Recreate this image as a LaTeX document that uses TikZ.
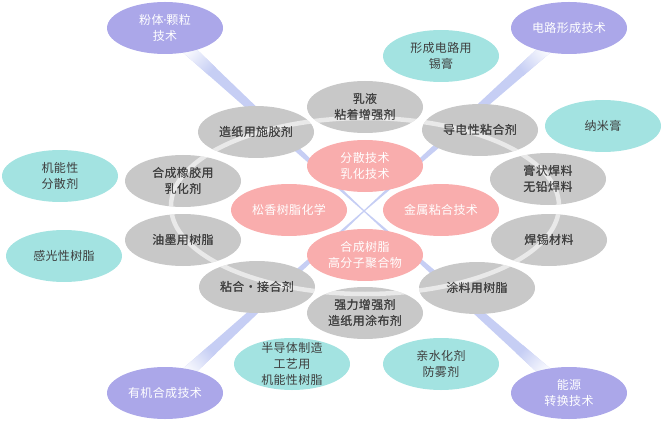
\documentclass[tikz,border=0pt]{standalone}
\usepackage{fontspec}
\setmainfont{Noto Sans CJK SC}[LetterSpace=3.0]
\newfontfamily\latinf{DejaVu Sans}
\usetikzlibrary{shapes.geometric,calc}
\definecolor{graybg}{HTML}{C8C8C8}
\definecolor{graytx}{HTML}{3E3E3E}
\definecolor{pinkbg}{HTML}{F9ADAD}
\definecolor{purbg}{HTML}{ABA7E9}
\definecolor{tealbg}{HTML}{A3E3E1}
\definecolor{bandc}{HTML}{C6CEF4}
\tikzset{
  base/.style={ellipse, minimum width=116pt, minimum height=52pt, inner xsep=0pt, inner ysep=-8pt,
    align=center, font=\fontsize{12}{16}\selectfont},
  grayn/.style={base, fill=graybg, text=graytx},
  pinkn/.style={base, fill=pinkbg, text=white},
  purn/.style={base, fill=purbg, text=white},
  tealn/.style={base, fill=tealbg, text=graytx},
  ringline/.style={white, line width=4.5pt, opacity=0.6},
}
\newcommand\bandto[2]{%
  \fill[bandc] ($(#1)!0.1!(hub)!6pt!90:(hub)$) -- ($(hub)!0.6pt!-90:(#1)$) -- ($(hub)!0.6pt!90:(#1)$) -- ($(#1)!0.1!(hub)!6pt!-90:(hub)$) -- cycle;
  \shade[top color=white, bottom color=bandc, shading angle=#2] ($(#1)!0.1!(hub)!6pt!90:(hub)$) -- ($(#1)!0.24!(hub)!5.2pt!90:(hub)$) -- ($(#1)!0.24!(hub)!5.2pt!-90:(hub)$) -- ($(#1)!0.1!(hub)!6pt!-90:(hub)$) -- cycle;
}
\begin{document}
\begin{tikzpicture}[x=1pt,y=-1pt]
\useasboundingbox (0,0) rectangle (663,422);
\coordinate (hub) at (364,211);
% purple node positions (defined first for the bands)
\coordinate (p1c) at (165,28);
\coordinate (p2c) at (569,28);
\coordinate (p3c) at (165,393);
\coordinate (p4c) at (569,393);
\bandto{p1c}{47.7}
\bandto{p2c}{-48.3}
\bandto{p3c}{132.5}
\bandto{p4c}{-131.9}
% gray ring nodes
\node[grayn] (g1) at (365,107) {乳液\\粘着增强剂};
\node[grayn] (g2) at (256,132) {造纸用施胶剂};
\node[grayn] (g3) at (480,130) {导电性粘合剂};
\node[grayn] (g4) at (183,181) {合成橡胶用\\乳化剂};
\node[grayn] (g5) at (548,179) {膏状焊料\\无铅焊料};
\node[grayn] (g6) at (183,240) {油墨用树脂};
\node[grayn] (g7) at (549,240) {焊锡材料};
\node[grayn] (g8) at (257,287) {粘合・接合剂};
\node[grayn] (g9) at (477,288) {涂料用树脂};
\node[grayn] (g10) at (365,313) {强力增强剂\\造纸用涂布剂};
% glossy ring over the gray ellipses
\begin{scope}
  \clip (g1.center) ellipse [x radius=58, y radius=26]
        (g2.center) ellipse [x radius=58, y radius=26]
        (g3.center) ellipse [x radius=58, y radius=26]
        (g4.center) ellipse [x radius=58, y radius=26]
        (g5.center) ellipse [x radius=58, y radius=26]
        (g6.center) ellipse [x radius=58, y radius=26]
        (g7.center) ellipse [x radius=58, y radius=26]
        (g8.center) ellipse [x radius=58, y radius=26]
        (g9.center) ellipse [x radius=58, y radius=26]
        (g10.center) ellipse [x radius=58, y radius=26];
  \draw[ringline] (365,206) ellipse [x radius=194, y radius=88];
\end{scope}
% redraw gray texts above the ring
\foreach \n/\t in {g1/{乳液\\粘着增强剂}, g2/造纸用施胶剂, g3/导电性粘合剂, g4/{合成橡胶用\\乳化剂}, g5/{膏状焊料\\无铅焊料}, g6/油墨用树脂, g7/焊锡材料, g8/粘合・接合剂, g9/涂料用树脂, g10/{强力增强剂\\造纸用涂布剂}}
  \node[base, text=graytx] at (\n.center) {\t};
% central pink nodes
\node[pinkn] (c1) at (365,166) {分散技术\\乳化技术};
\node[pinkn] (c2) at (289,210) {松香树脂化学};
\node[pinkn] (c3) at (441,210) {金属粘合技术};
\node[pinkn] (c4) at (365,255) {合成树脂\\高分子聚合物};
% teal nodes
\node[tealn] (t1) at (441,56) {形成电路用\\锡膏};
\node[tealn] (t2) at (603,126) {纳米膏};
\node[tealn] (t3) at (60,176) {机能性\\分散剂};
\node[tealn] (t4) at (64,256) {感光性树脂};
\node[tealn] (t5) at (292,364) {半导体制造\\工艺用\\机能性树脂};
\node[tealn] (t6) at (441,364) {亲水化剂\\防雾剂};
% purple nodes
\node[purn] (p1) at (p1c) {粉体{\latinf\kern-0.5pt·\kern-0.5pt}颗粒\\技术};
\node[purn] (p2) at (p2c) {电路形成技术};
\node[purn] (p3) at (p3c) {有机合成技术};
\node[purn] (p4) at (p4c) {能源\\转换技术};
\end{tikzpicture}
\end{document}
